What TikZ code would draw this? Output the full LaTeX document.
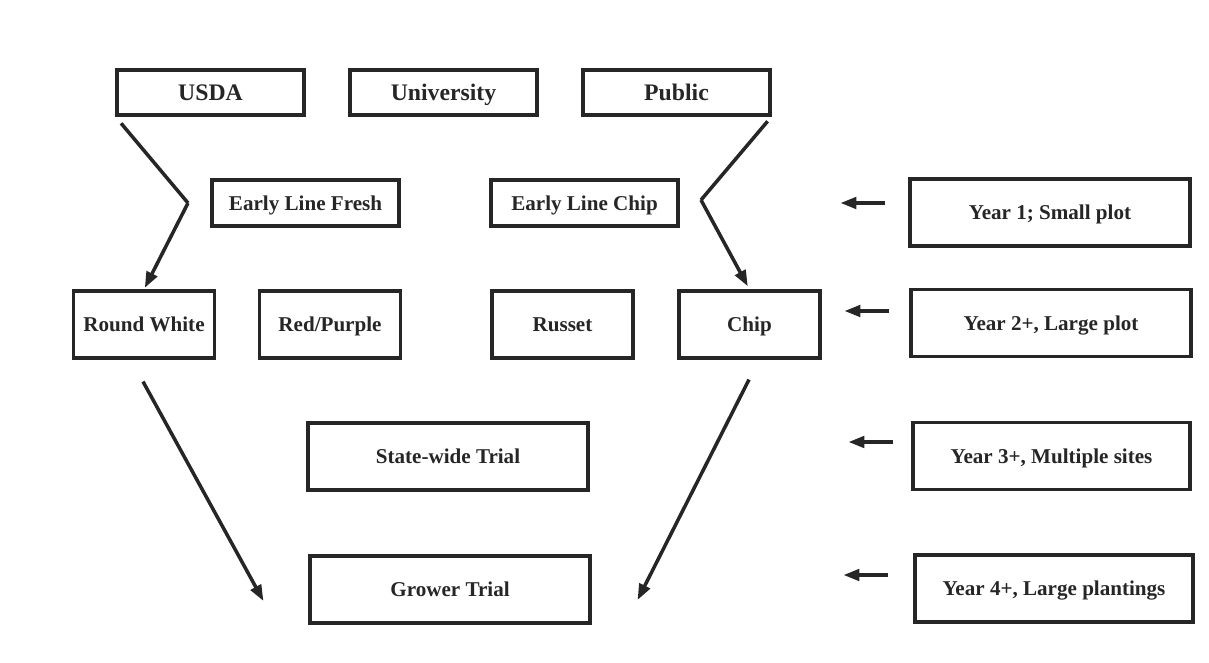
\documentclass[tikz,border=0pt]{standalone}
\usepackage{fontspec}
\setmainfont{Liberation Serif}
\usepackage{tikz}
\usetikzlibrary{calc,arrows.meta}
\definecolor{ink}{HTML}{262626}
\definecolor{paper}{HTML}{FFFFFF}
\tikzset{
  box/.style={draw=ink, line width=1.8pt, text=ink, font=\fontsize{12}{14}\selectfont\bfseries, inner sep=2pt, text height=8.5pt, text depth=0.5pt},
  srcbox/.style={box, minimum width=3.74cm, minimum height=0.9cm, font=\fontsize{13.5}{16}\selectfont\bfseries, text height=9.5pt, text depth=0.6pt},
  linebox/.style={box, minimum width=3.74cm, minimum height=0.92cm},
  typebox/.style={box, minimum width=2.82cm, minimum height=1.34cm},
  wide/.style={box, minimum width=5.6cm, minimum height=1.34cm},
  arr/.style={draw=ink, line width=2pt, -{Triangle[length=3.2mm,width=2.3mm]}},
  kneeline/.style={draw=ink, line width=2pt, line join=miter},
}
\begin{document}
\begin{tikzpicture}[x=0.02cm, y=-0.02cm]
  \useasboundingbox[fill=paper] (0,0) rectangle (1209,662);
  % sources
  \node[srcbox] (usda) at (210.5,92.5) {USDA};
  \node[srcbox] (univ) at (443.5,92.5) {University};
  \node[srcbox] (public) at (676.5,92.5) {Public};
  % early lines
  \node[linebox] (fresh) at (305.5,203) {Early Line Fresh};
  \node[linebox] (echip) at (584.5,203) {Early Line Chip};
  % market types
  \node[typebox] (rw) at (144,324.5) {Round White};
  \node[typebox] (rp) at (330,324.5) {Red/Purple};
  \node[typebox] (russet) at (562.5,324.5) {Russet};
  \node[typebox] (chip) at (749.5,324.5) {Chip};
  % trials
  \node[wide] (state) at (448,456.5) {State-wide Trial};
  \node[wide] (grower) at (450,589.5) {Grower Trial};
  % years
  \node[wide] (y1) at (1050,212.5) {Year 1; Small plot};
  \node[wide] (y2) at (1051,323) {Year 2+, Large plot};
  \node[wide, minimum width=5.54cm] (y3) at (1051.5,456) {Year 3+, Multiple sites};
  \node[wide, minimum width=5.56cm] (y4) at (1054,588.5) {Year 4+, Large plantings};

  \coordinate (kneeL) at (188,203);
  \coordinate (kneeR) at (701,200);
  \draw[kneeline, shorten <=5pt] (usda.south west) -- (kneeL);
  \draw[arr, shorten >=1pt] (kneeL) -- (rw.north);
  \draw[kneeline, shorten <=3.5pt] (public.south east) -- (kneeR);
  \draw[arr, shorten >=2pt] (kneeR) -- (chip.north);

  \coordinate (rwFoot) at ($(rw.south)+(-1,22)$);
  \coordinate (gtL) at ($(grower.west)+(-45,11.5)$);
  \coordinate (chipFoot) at ($(chip.south)+(-0.5,20)$);
  \coordinate (gtR) at ($(grower.east)+(46,10.5)$);
  \draw[arr] (rwFoot) -- (gtL);
  \draw[arr] (chipFoot) -- (gtR);

  \foreach \n/\a/\b/\d in {y1/-23/-68/-9.5, y2/-20/-65/-12, y3/-18/-63/-14, y4/-25/-70/-13.5} {
    \coordinate (\n s) at ($(\n.west)+(\a,\d)$);
    \coordinate (\n e) at ($(\n.west)+(\b,\d)$);
    \draw[arr] (\n s) -- (\n e);
  }
\end{tikzpicture}
\end{document}
